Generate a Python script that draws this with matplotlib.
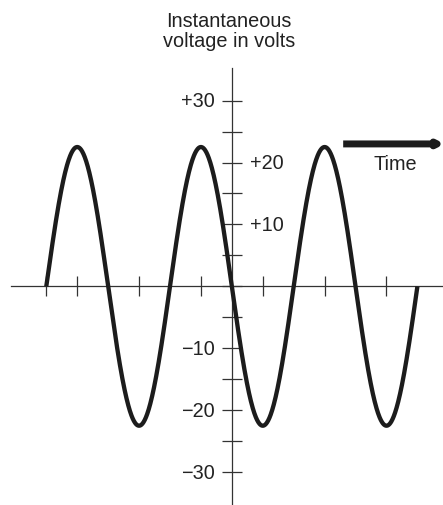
import numpy as np
import matplotlib.pyplot as plt

plt.rcParams['font.family'] = ['Liberation Sans', 'DejaVu Sans']

# sine wave: 3 full cycles, peak about 22.5 V
peak_volts = 22.5
cycles = 3
phase_deg = np.linspace(0, 360 * cycles, 1200)
volts = peak_volts * np.sin(np.radians(phase_deg))

# tick marks
time_ticks = [0, 90, 270, 450, 630, 810, 990]
volt_ticks = [-30, -25, -20, -15, -10, -5, 0, 5, 10, 15, 20, 25, 30]
left_labels = {30: '+30', -10: '\u221210', -20: '\u221220', -30: '\u221230'}
right_labels = {20: '+20', 10: '+10'}

y_axis_at = 540  # vertical axis crosses the time axis here (deg)

fig = plt.figure(figsize=(4.43, 5.06), dpi=100)
ax = fig.add_axes([0, 0, 1, 1])
ax.set_xlim(-134.7, 1154.5)
ax.set_ylim(-35.3, 46.4)

ax.plot(phase_deg, volts, color='#1c1c1c', lw=3.1, solid_capstyle='butt', zorder=3)

for s in ['top', 'right']:
    ax.spines[s].set_visible(False)
ax.spines['bottom'].set_position(('data', 0))
ax.spines['bottom'].set_bounds(-103, 1160)
ax.spines['left'].set_position(('data', y_axis_at))
ax.spines['left'].set_bounds(-40, 35.3)
for s in ['bottom', 'left']:
    ax.spines[s].set_linewidth(0.9)
    ax.spines[s].set_color('#333333')

ax.set_xticks(time_ticks)
ax.set_yticks(volt_ticks)
ax.tick_params(axis='both', direction='inout', length=15, width=0.9,
               color='#333333', labelbottom=False, labelleft=False)

fs = 14.3
for v, lab in left_labels.items():
    ax.text(y_axis_at - 50, v, lab, ha='right', va='center', fontsize=fs, color='#222222')
for v, lab in right_labels.items():
    ax.text(y_axis_at + 52, v, lab, ha='left', va='center', fontsize=fs, color='#222222')

ax.text(y_axis_at - 8, 41.3, 'Instantaneous\nvoltage in volts', ha='center', va='center',
        fontsize=fs, color='#222222', linespacing=1.1)

# time arrow
ax.annotate('', xy=(1160, 23.0), xytext=(864, 23.0), annotation_clip=False,
            arrowprops=dict(arrowstyle='-|>', lw=5, color='#1c1c1c', capstyle='butt',
                            mutation_scale=7, shrinkA=0, shrinkB=0))
ax.text(1015, 19.8, 'Time', ha='center', va='center', fontsize=fs, color='#222222')

fig.savefig('out.png', dpi=100)
